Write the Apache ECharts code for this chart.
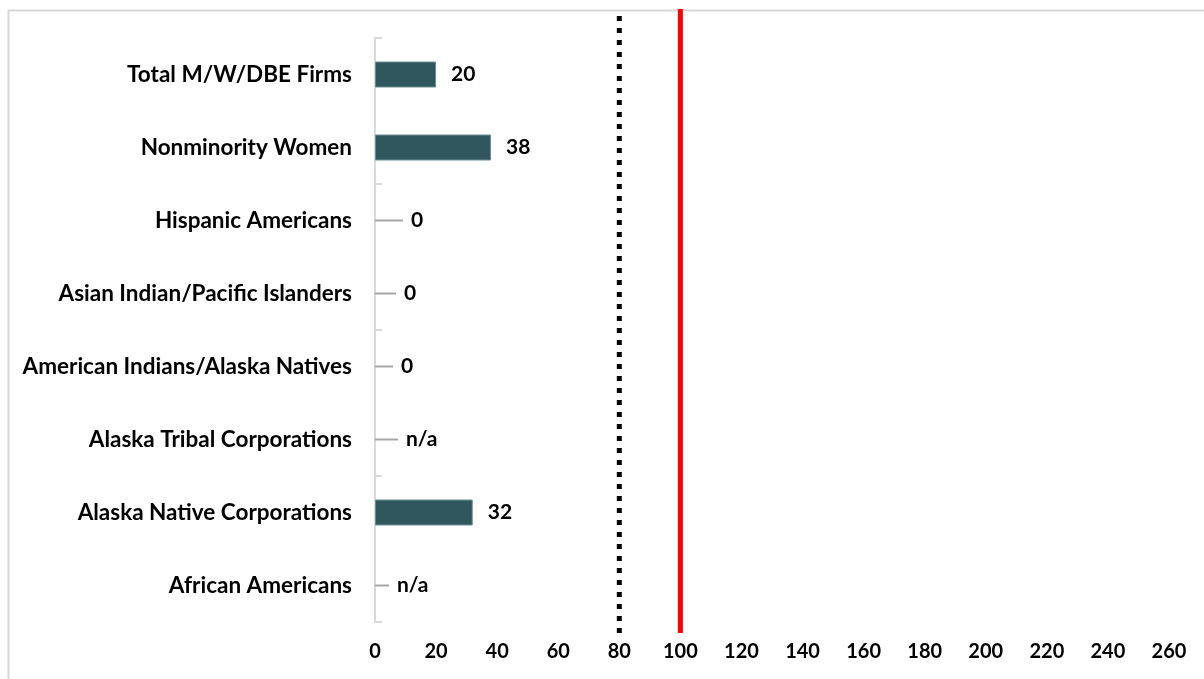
<!DOCTYPE html>
<html>
<head>
<meta charset="utf-8">
<script src="https://cdn.jsdelivr.net/npm/echarts@6/dist/echarts.min.js"></script>
<style>
  html, body { margin: 0; padding: 0; background: #fff; }
  #chart { width: 1204px; height: 679px; }
</style>
</head>
<body>
<div id="chart"></div>
<script>
// Categories listed bottom-to-top (category axis runs upward)
const categories = [
  'African Americans',
  'Alaska Native Corporations',
  'Alaska Tribal Corporations',
  'American Indians/Alaska Natives',
  'Asian Indian/Pacific Islanders',
  'Hispanic Americans',
  'Nonminority Women',
  'Total M/W/DBE Firms'
];
// Disparity index per group; null = not available
const values = [null, 32, null, 0, 0, 0, 38, 20];
// Value axis range and step
const axisMin = 0;
const axisMax = 260;
const axisStep = 20;
// Reference thresholds
const thresholdDotted = 80;
const thresholdSolid = 100;

// Leader-line length (px) for groups whose label sits at the origin
const leaderLength = { 0: 14, 2: 23, 3: 18, 4: 21, 5: 28 };

const FONT = 'Lato, "Open Sans", sans-serif';
const barColor = '#2F575D';

// Bars only where there is a positive value
const barData = values.map(v => (v ? v : null));

// Groups with no bar: zero or n/a, drawn as a short leader line plus text
const stubData = [];
values.forEach((v, i) => {
  if (v === null || v === 0) stubData.push([0, i, v === null ? 'n/a' : '0']);
});

const chart = echarts.init(document.getElementById('chart'), null, { renderer: 'canvas' });

chart.setOption({
  animation: false,
  backgroundColor: '#fff',
  graphic: [{
    type: 'rect',
    left: 6, top: 8,
    shape: { width: 1400, height: 900 },
    style: { fill: 'none', stroke: '#d9d9d9', lineWidth: 2 },
    z: -10
  }],
  grid: [
    { left: 375, right: 35, top: 38, height: 584, containLabel: false },
    { left: 375, right: 35, top: 9, bottom: 46, containLabel: false }
  ],
  xAxis: [
    {
      type: 'value', gridIndex: 0,
      min: axisMin, max: axisMax, interval: axisStep,
      axisLine: { show: false },
      axisTick: { show: false },
      splitLine: { show: false },
      axisLabel: {
        color: '#000', fontFamily: FONT, fontWeight: 'bold', fontSize: 20, margin: 20
      }
    },
    {
      type: 'value', gridIndex: 1,
      min: axisMin, max: axisMax, show: false
    }
  ],
  yAxis: [
    {
      type: 'category', gridIndex: 0,
      data: categories,
      axisLine: { show: true, lineStyle: { color: '#d9d9d9', width: 2 } },
      axisTick: { show: true, inside: true, length: 7, interval: 1, lineStyle: { color: '#d9d9d9', width: 2 } },
      axisLabel: {
        color: '#000', fontFamily: FONT, fontWeight: 'bold', fontSize: 22.5, margin: 23
      }
    },
    {
      type: 'value', gridIndex: 1, min: 0, max: 1, show: false
    }
  ],
  series: [
    {
      type: 'bar',
      xAxisIndex: 0, yAxisIndex: 0,
      data: barData,
      barWidth: 26,
      itemStyle: { color: barColor, borderColor: '#6d8f93', borderWidth: 1 },
      label: {
        show: true, position: 'right', distance: 15,
        color: '#000', fontFamily: FONT, fontWeight: 'bold', fontSize: 21,
        formatter: p => String(p.value)
      }
    },
    {
      type: 'custom',
      xAxisIndex: 0, yAxisIndex: 0,
      data: stubData,
      encode: { x: 0, y: 1 },
      renderItem: function (params, api) {
        const idx = api.value(1);
        const p = api.coord([api.value(0), idx]);
        const len = leaderLength[idx] || 20;
        const txt = stubData[params.dataIndex][2];
        return {
          type: 'group',
          children: [
            {
              type: 'line',
              shape: { x1: p[0], y1: p[1], x2: p[0] + len, y2: p[1] },
              style: { stroke: '#a6a6a6', lineWidth: 2 }
            },
            {
              type: 'text',
              style: {
                x: p[0] + len + 8, y: p[1],
                text: txt,
                fill: '#000',
                font: 'bold 21px ' + FONT,
                verticalAlign: 'middle', align: 'left'
              }
            }
          ]
        };
      }
    },
    {
      type: 'line',
      xAxisIndex: 1, yAxisIndex: 1,
      data: [[thresholdDotted, 0], [thresholdDotted, 1]],
      symbol: 'none',
      lineStyle: { color: '#000', width: 5, type: [5, 7], cap: 'butt' },
      z: 5
    },
    {
      type: 'line',
      xAxisIndex: 1, yAxisIndex: 1,
      data: [[thresholdSolid, 0], [thresholdSolid, 1]],
      symbol: 'none',
      lineStyle: { color: '#ff0000', width: 5, cap: 'butt' },
      z: 5
    }
  ]
});
</script>
</body>
</html>
